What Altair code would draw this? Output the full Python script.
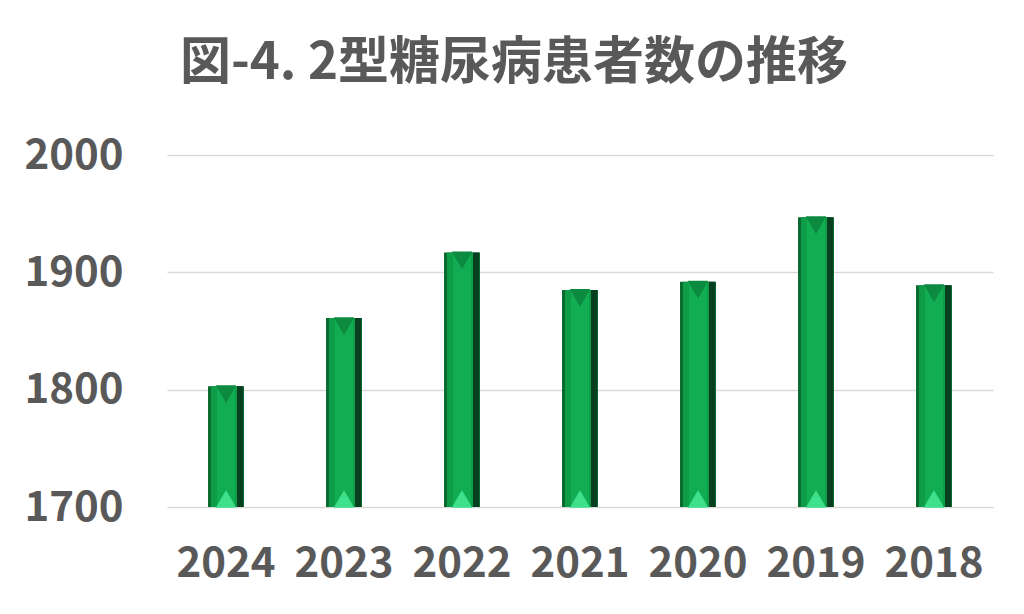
import altair as alt
import pandas as pd

years = ["2024", "2023", "2022", "2021", "2020", "2019", "2018"]
patients = [1803, 1861, 1917, 1885, 1892, 1947, 1889]
y_ticks = [1700, 1800, 1900, 2000]
title_text = "図-4. 2型糖尿病患者数の推移"

df = pd.DataFrame({"year": years, "value": patients, "base": [1700] * len(years)})

FONT = "Noto Sans CJK JP"
GREY = "#595959"

x_enc = alt.X("year:N", sort=years, title=None,
              scale=alt.Scale(paddingInner=0.69, paddingOuter=0.345),
              axis=alt.Axis(labelAngle=0, labelFont=FONT, labelFontSize=42,
                            labelFontWeight="bold", labelColor=GREY,
                            labelPadding=36, ticks=False, domain=False))
y_enc = alt.Y("value:Q", title=None,
              scale=alt.Scale(domain=[1700, 2000], nice=False, zero=False),
              axis=alt.Axis(values=y_ticks, format="d", labelFont=FONT, labelFontSize=42,
                            labelFontWeight="bold", labelColor=GREY,
                            labelPadding=44, ticks=False, domain=False,
                            gridColor="#d9d9d9", gridWidth=1.5))

base = alt.Chart(df)
xs = alt.X("year:N", sort=years)

outer = base.mark_bar(size=36, color="#0a6b30").encode(x=x_enc, y=y_enc, y2="base:Q")
left = base.mark_bar(size=28, color="#0e9c47", xOffset=-1).encode(x=xs, y="value:Q", y2="base:Q")
right = base.mark_bar(size=6, color="#064020", xOffset=14).encode(x=xs, y="value:Q", y2="base:Q")
face = base.mark_bar(size=18, color="#12ad52").encode(x=xs, y="value:Q", y2="base:Q")
bottom_tri = base.mark_point(shape="triangle-up", filled=True, size=420,
                             color="#3fe08c", opacity=1, yOffset=-8).encode(x=xs, y="base:Q")
top_tri = base.mark_point(shape="triangle-down", filled=True, size=420,
                          color="#0c8a3f", opacity=1, yOffset=8).encode(x=xs, y="value:Q")

chart = alt.layer(outer, left, right, face, bottom_tri, top_tri).properties(
    width=826, height=352,
    background="white",
    title=alt.TitleParams(title_text, font=FONT, fontSize=51, fontWeight="bold",
                          color=GREY, anchor="middle", offset=44, dx=-66),
    autosize=alt.AutoSizeParams(type="none"),
    padding={"left": 159, "top": 147, "right": 23, "bottom": 99},
).configure_view(strokeWidth=0, stroke=None)

chart.save("out.html", embed_options={"renderer": "svg", "actions": False})
